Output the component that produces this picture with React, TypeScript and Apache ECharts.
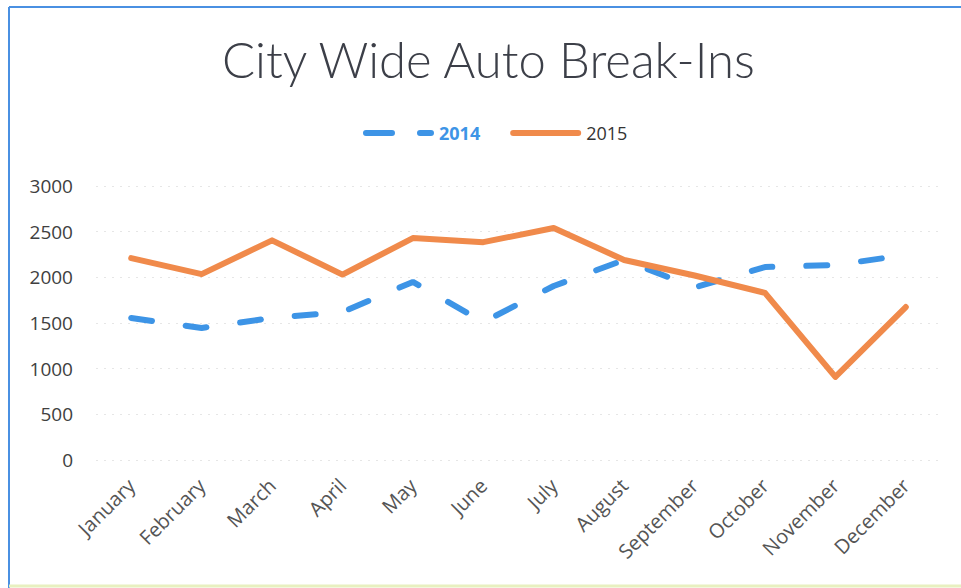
import React, { useEffect, useRef } from "react";
import * as echarts from "echarts";

const categories = ["January", "February", "March", "April", "May", "June", "July", "August", "September", "October", "November", "December"];
const values2014 = [1555, 1445, 1555, 1620, 1950, 1510, 1905, 2190, 1890, 2113, 2135, 2245];
const values2015 = [2210, 2035, 2405, 2030, 2430, 2385, 2540, 2190, 2020, 1830, 910, 1675];
const yTicks = [0, 500, 1000, 1500, 2000, 2500, 3000];

const BLUE = "#3d94e6";
const ORANGE = "#f08a4b";

export default function App() {
  const ref = useRef<HTMLDivElement>(null);
  useEffect(() => {
    const chart = echarts.init(ref.current!, null, { renderer: "svg" });
    chart.setOption({
      animation: false,
      backgroundColor: "#ffffff",
      title: {
        text: "City Wide Auto Break-Ins",
        left: 217,
        top: 29,
        textStyle: { fontFamily: "Lato", fontWeight: 300, fontSize: 49, color: "#3c3f48" },
      },
      legend: {
        top: 119,
        left: 358,
        itemWidth: 65,
        itemHeight: 14,
        itemGap: 30,
        itemStyle: { opacity: 0 },
        textStyle: { fontFamily: "Open Sans", fontSize: 18, color: "#404040", padding: [0, 0, 0, 3] },
        data: [
          {
            name: "2014",
            textStyle: { color: BLUE, fontWeight: "bold" },
            lineStyle: { width: 6, type: [26, 28], cap: "round", color: BLUE },
          },
          {
            name: "2015",
            textStyle: { color: "#333333" },
            lineStyle: { width: 6, cap: "round", color: ORANGE },
          },
        ],
      },
      grid: { left: 96, right: 20, top: 186, bottom: 128 },
      xAxis: {
        type: "category",
        data: categories,
        boundaryGap: true,
        axisLine: { show: false },
        axisTick: { show: false },
        axisLabel: { rotate: 45, fontFamily: "Open Sans", fontSize: 20, color: "#555555", margin: 22, interval: 0 },
      },
      yAxis: {
        type: "value",
        min: yTicks[0],
        max: yTicks[yTicks.length - 1],
        interval: 500,
        axisLine: { show: false },
        axisTick: { show: false },
        axisLabel: {
          fontFamily: "Open Sans",
          fontSize: 19,
          color: "#404040",
          margin: 23,
          formatter: (v: number) => String(v),
        },
        splitLine: { lineStyle: { color: "#e6e6e6", type: [2, 6] } },
      },
      graphic: [
        { type: "line", shape: { x1: 9, y1: 7, x2: 9, y2: 588 }, style: { stroke: "#4a90e2", lineWidth: 2 } },
        { type: "line", shape: { x1: 9, y1: 7, x2: 961, y2: 7 }, style: { stroke: "#4a90e2", lineWidth: 2 } },
        { type: "line", shape: { x1: 9, y1: 586, x2: 961, y2: 586 }, style: { stroke: "#e8f0c0", lineWidth: 3 } },
      ],
      series: [
        {
          name: "2014",
          type: "line",
          data: values2014,
          symbol: "none",
          lineStyle: { color: BLUE, width: 6, type: [21, 34], cap: "round" },
          itemStyle: { color: BLUE },
        },
        {
          name: "2015",
          type: "line",
          data: values2015,
          symbol: "none",
          lineStyle: { color: ORANGE, width: 6, cap: "round", join: "round" },
          itemStyle: { color: ORANGE },
        },
      ],
    });
    return () => chart.dispose();
  }, []);
  return <div ref={ref} style={{ position: "fixed", left: 0, top: 0, width: 961, height: 588 }} />;
}
